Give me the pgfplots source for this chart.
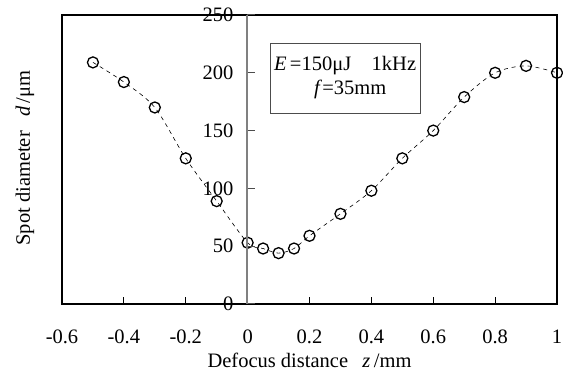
\documentclass[border=0pt]{standalone}
\usepackage{fontspec}
\setmainfont{Liberation Serif}
\usepackage{pgfplots}
\pgfplotsset{compat=1.18}
\newcommand{\bigfont}{\fontsize{20.5bp}{24bp}\selectfont}
\begin{document}
\begin{tikzpicture}[font=\bigfont]
\useasboundingbox (0,0) rectangle (563bp,380bp);
\begin{axis}[
  at={(62bp,76bp)}, anchor=south west,
  width=495bp, height=289bp, scale only axis,
  xmin=-0.6, xmax=1, ymin=0, ymax=250,
  xtick={-0.6,-0.4,-0.2,0,0.2,0.4,0.6,0.8,1},
  xticklabels={-0.6,-0.4,-0.2,0,0.2,0.4,0.6,0.8,1},
  ytick=\empty,
  xtick pos=bottom, tick align=inside,
  major tick length=7bp,
  axis line style={line width=1.2bp},
  every tick/.style={black, line width=1bp},
  xticklabel style={font=\bigfont, yshift=-22bp},
  clip=false,
]
\addplot[black, line width=0.6bp, dash pattern=on 4bp off 4bp, smooth, tension=0.5,
  mark=o, mark size=5.5bp, mark options={solid, fill=white, line width=1.3bp}]
  coordinates {
  (-0.5,209) (-0.4,192) (-0.3,170) (-0.2,126) (-0.1,89) (0,53)
  (0.05,48) (0.1,44) (0.15,48) (0.2,59) (0.3,78) (0.4,98)
  (0.5,126) (0.6,150) (0.7,179) (0.8,200) (0.9,206) (1.0,200)
  };
\node[draw=black!70, line width=1bp, minimum width=150bp, minimum height=70bp, align=center,
  inner sep=2bp]
  at (axis cs:0.315,195.5) {\fontsize{20.5bp}{28bp}\selectfont\textit{E}\,=150μJ\quad 1kHz\\\hspace*{0.5em}\textit{f}=35mm};
\node[anchor=center] at (axis description cs:0.5,-0.194)
  {\fontsize{20.5bp}{24bp}\selectfont Defocus distance\hspace{0.7em}\textit{z}\,/mm};
\node[anchor=center, rotate=90] at (axis description cs:-0.075,0.505)
  {\fontsize{20.5bp}{24bp}\selectfont Spot diameter\hspace{0.7em}\textit{d}\,/μm};
\end{axis}
\begin{axis}[
  at={(247bp,76bp)}, anchor=south west,
  width=310bp, height=289bp, scale only axis,
  xmin=0, xmax=1, ymin=0, ymax=250,
  axis x line=none, axis y line*=left,
  ytick={0,50,100,150,200,250},
  yticklabels={0,50,100,150,200,250},
  tick align=inside, major tick length=8bp,
  axis line style={line width=1.2bp, black!50},
  every tick/.style={black!70, line width=1bp},
  yticklabel style={font=\bigfont, xshift=-10bp},
]
\end{axis}
\end{tikzpicture}
\end{document}
